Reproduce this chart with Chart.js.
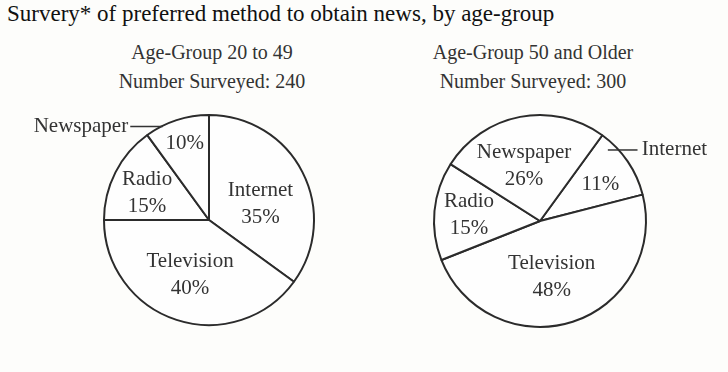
<!DOCTYPE html>
<html>
<head>
<meta charset="utf-8">
<script src="https://cdn.jsdelivr.net/npm/chart.js@4"></script>
<style>
  html, body { margin: 0; padding: 0; }
  body { width: 728px; height: 372px; background: #fdfdfb; position: relative; overflow: hidden;
         font-family: "Liberation Serif", "Times New Roman", serif; color: #222; }
  canvas { position: absolute; left: 0; top: 0; }
  .title { position: absolute; left: 7px; top: 1px; font-size: 23px; white-space: nowrap; color: #111; }
  .sub { position: absolute; width: 300px; text-align: center; font-size: 20px; line-height: 29px; color: #333; }
</style>
</head>
<body>
<div class="title">Survery* of preferred method to obtain news, by age-group</div>
<div class="sub" id="subYoung" style="left:62px; top:38px;"></div>
<div class="sub" id="subOlder" style="left:383px; top:38px;"></div>
<canvas id="youngChart" width="728" height="372"></canvas>
<canvas id="olderChart" width="728" height="372"></canvas>
<script>
// data
const categories = ['Internet', 'Television', 'Radio', 'Newspaper'];
const youngShares = [35, 40, 15, 10];
const olderShares = [11, 48, 15, 26];
const youngGroup = 'Age-Group 20 to 49';
const olderGroup = 'Age-Group 50 and Older';
const youngSurveyed = 240;
const olderSurveyed = 300;

document.getElementById('subYoung').innerHTML = youngGroup + '<br>Number Surveyed: ' + youngSurveyed;
document.getElementById('subOlder').innerHTML = olderGroup + '<br>Number Surveyed: ' + olderSurveyed;

// draws "Name / NN%" inside each slice; one slice gets its name outside with a leader line
const sliceLabels = {
    id: 'sliceLabels',
    afterDatasetsDraw(chart, args, opts) {
        const ctx = chart.ctx;
        const meta = chart.getDatasetMeta(0);
        const values = chart.data.datasets[0].data;
        ctx.save();
        ctx.font = '21px "Liberation Serif", "Times New Roman", serif';
        ctx.fillStyle = '#333';
        ctx.textAlign = 'center';
        ctx.textBaseline = 'middle';
        meta.data.forEach((arc, i) => {
            const r = arc.outerRadius;
            const spot = opts.spots[i];
            const x = arc.x + spot[0] * r;
            const y = arc.y + spot[1] * r;
            const pct = values[i] + '%';
            if (i === opts.outside.index) {
                ctx.fillText(pct, x, y);
            } else {
                ctx.fillText(chart.data.labels[i], x, y - 13);
                ctx.fillText(pct, x, y + 14);
            }
        });
        // outside name with leader line
        const o = opts.outside;
        const arc = meta.data[o.index];
        const r = arc.outerRadius;
        const ly = arc.y + o.y * r;
        ctx.strokeStyle = '#333';
        ctx.lineWidth = 1.5;
        ctx.beginPath();
        ctx.moveTo(arc.x + o.line[0] * r, ly);
        ctx.lineTo(arc.x + o.line[1] * r, ly);
        ctx.stroke();
        ctx.textAlign = o.align;
        ctx.fillText(chart.data.labels[o.index], arc.x + o.x * r, ly);
        ctx.restore();
    }
};

function makePie(id, shares, rotation, padding, radius, labelOpts) {
    return new Chart(document.getElementById(id), {
        type: 'pie',
        data: {
            labels: categories,
            datasets: [{
                data: shares,
                backgroundColor: '#fefefe',
                borderColor: '#2b2b2b',
                borderWidth: 2,
                borderAlign: 'center'
            }]
        },
        options: {
            responsive: false,
            animation: false,
            rotation: rotation,
            radius: radius,
            layout: { padding: padding },
            events: [],
            plugins: {
                legend: { display: false },
                tooltip: { enabled: false },
                sliceLabels: labelOpts
            }
        },
        plugins: [sliceLabels]
    });
}

makePie('youngChart', youngShares, 0,
    { left: 104, right: 414, top: 115, bottom: 47 }, 105,
    {
        spots: [[0.49, -0.16], [-0.18, 0.52], [-0.59, -0.26], [-0.23, -0.73]],
        outside: { index: 3, x: -0.77, y: -0.89, line: [-0.75, -0.44], align: 'right' }
    });

makePie('olderChart', olderShares, 36,
    { left: 434, right: 82, top: 115, bottom: 45 }, 106,
    {
        spots: [[0.57, -0.34], [0.11, 0.52], [-0.67, -0.06], [-0.15, -0.52]],
        outside: { index: 0, x: 0.96, y: -0.67, line: [0.64, 0.92], align: 'left' }
    });
</script>
</body>
</html>
